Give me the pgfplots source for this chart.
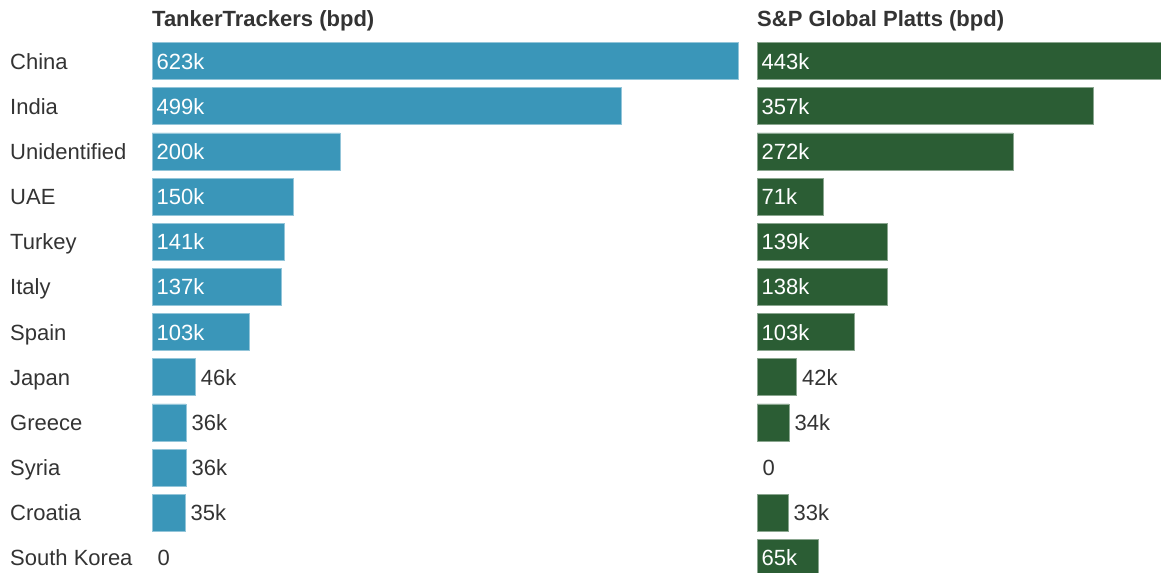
\documentclass[border=0pt]{standalone}
\usepackage{pgfplots}
\pgfplotsset{compat=1.18}
\usepackage{fontspec}
\setmainfont{Liberation Sans}
\definecolor{ttblue}{HTML}{3A96B9}
\definecolor{spgreen}{HTML}{2B5D34}
\definecolor{txt}{HTML}{333333}
\newcommand\fs{\fontsize{22bp}{26bp}\selectfont}
\pgfplotsset{
 panel/.style={
  scale only axis,
  height=542.16bp,
  ymin=-0.5, ymax=11.5, y dir=reverse,
  xmin=0,
  axis line style={draw=none},
  xtick=\empty,
  ytick=\empty,
  major tick length=0pt,
  tick style={draw=none},
  clip=false,
  title style={at={(0,1)}, anchor=base west, yshift=5.7bp, inner sep=0pt, font=\fs\bfseries, text=txt},
 },
 inlab/.style={draw=none, mark=none, nodes near coords, point meta=explicit symbolic,
   every node near coord/.append style={anchor=base west, xshift=4.5bp, yshift=-8bp, inner sep=0pt, text=white, font=\fs}},
 outlab/.style={draw=none, mark=none, nodes near coords, point meta=explicit symbolic,
   every node near coord/.append style={anchor=base west, xshift=5.5bp, yshift=-8bp, inner sep=0pt, text=txt, font=\fs}},
}
% zero-valued rows (South Korea left, Syria right) have no bar
\pgfplotstableread{
row val
0 623
1 499
2 200
3 150
4 141
5 137
6 103
7 46
8 36
9 36
10 35
}\tt
\pgfplotstableread{
row val
0 443
1 357
2 272
3 71
4 139
5 138
6 103
7 42
8 34
10 33
11 65
}\sp
\begin{document}
\begin{tikzpicture}
\useasboundingbox (0,0) rectangle (1161bp,573bp);
\begin{axis}[panel,
  at={(152bp,534.59bp)}, anchor=north west,
  width=601.98bp, xmax=640,
  title={TankerTrackers (bpd)},
  ytick={0,...,11},
  yticklabels={China,India,Unidentified,UAE,Turkey,Italy,Spain,Japan,Greece,Syria,Croatia,South Korea},
  yticklabel style={anchor=base west, xshift=-142bp, yshift=-8bp, inner sep=0pt, font=\fs, text=txt},
]
\addplot[xbar, bar width=37bp, bar shift=0pt, fill=ttblue, draw=ttblue!55!white, line width=0.6bp] table[x=val, y=row] {\tt};
\addplot[inlab] coordinates {(0,0) [623k] (0,1) [499k] (0,2) [200k] (0,3) [150k] (0,4) [141k] (0,5) [137k] (0,6) [103k]};
\addplot[outlab] coordinates {(46,7) [46k] (36,8) [36k] (36,9) [36k] (35,10) [35k] (0,11) [0]};
\end{axis}
\begin{axis}[panel,
  at={(757bp,534.59bp)}, anchor=north west,
  width=423.27bp, xmax=450,
  title={S\&P Global Platts (bpd)},
]
\addplot[xbar, bar width=37bp, bar shift=0pt, fill=spgreen, draw=spgreen!55!white, line width=0.6bp] table[x=val, y=row] {\sp};
\addplot[inlab] coordinates {(0,0) [443k] (0,1) [357k] (0,2) [272k] (0,3) [71k] (0,4) [139k] (0,5) [138k] (0,6) [103k] (0,11) [65k]};
\addplot[outlab] coordinates {(42,7) [42k] (34,8) [34k] (0,9) [0] (33,10) [33k]};
\end{axis}
\end{tikzpicture}
\end{document}
